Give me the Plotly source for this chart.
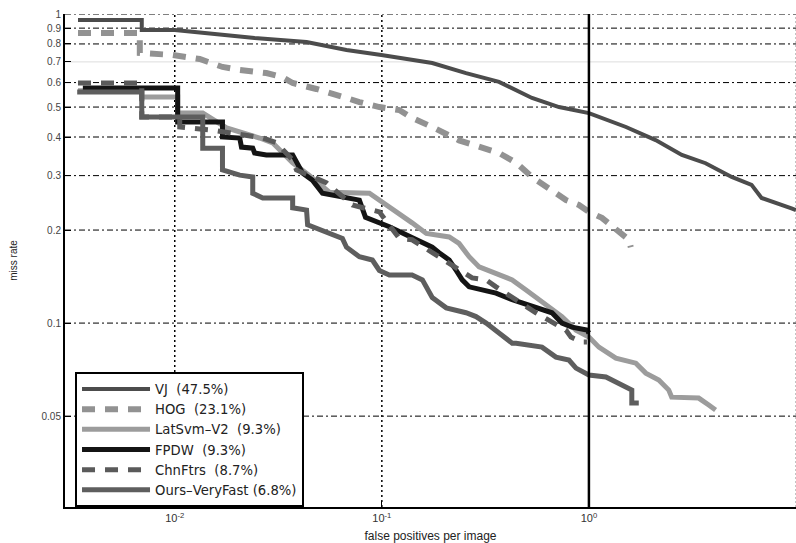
import plotly.graph_objects as go

# ---- data (false positives per image, miss rate) ----
vj_x = [0.00341, 0.00693, 0.00693, 0.0100, 0.01396, 0.0243, 0.0433, 0.0675, 0.0995, 0.1751, 0.255, 0.368,
        0.531, 0.717, 1.0, 1.51, 2.10, 2.81, 3.66, 4.89, 6.10, 6.82, 9.51, 10.0]
vj_y = [0.956, 0.956, 0.888, 0.888, 0.868, 0.836, 0.812, 0.765, 0.737, 0.694, 0.644, 0.603,
        0.535, 0.500, 0.478, 0.431, 0.391, 0.350, 0.329, 0.297, 0.280, 0.254, 0.235, 0.232]

hog_x = [0.00341, 0.00678, 0.00678, 0.00978, 0.0132, 0.0170, 0.0206, 0.0277, 0.0331, 0.0371, 0.0483, 0.0577,
         0.0675, 0.0779, 0.0973, 0.1214, 0.140, 0.1751, 0.236, 0.368, 0.445, 0.531, 0.641, 0.775, 0.895,
         1.0, 1.155, 1.349, 1.559, 1.593]
hog_y = [0.868, 0.868, 0.748, 0.737, 0.715, 0.674, 0.659, 0.644, 0.625, 0.598, 0.572, 0.555,
         0.535, 0.519, 0.500, 0.489, 0.461, 0.431, 0.390, 0.355, 0.330, 0.297, 0.273, 0.250, 0.241,
         0.229, 0.219, 0.200, 0.186, 0.176]

lat_x = [0.00341, 0.00693, 0.00693, 0.01033, 0.01033, 0.01365, 0.0178, 0.0206, 0.0238, 0.0257, 0.0297,
         0.0347, 0.0371, 0.0448, 0.0558, 0.0871, 0.105, 0.1214, 0.140, 0.164, 0.2115, 0.236, 0.264, 0.295,
         0.356, 0.426, 0.497, 0.555, 0.641, 0.741, 0.866, 1.0, 1.117, 1.349, 1.685, 1.882, 2.175, 2.43,
         2.51, 3.39, 3.79, 4.09]
lat_y = [0.565, 0.565, 0.539, 0.539, 0.478, 0.478, 0.428, 0.415, 0.406, 0.397, 0.383,
         0.344, 0.330, 0.300, 0.265, 0.263, 0.241, 0.227, 0.211, 0.195, 0.190, 0.181, 0.164, 0.152,
         0.145, 0.138, 0.128, 0.121, 0.113, 0.105, 0.0949, 0.0901, 0.0836, 0.0770, 0.0742, 0.0689, 0.0654, 0.0607,
         0.0576, 0.0572, 0.0543, 0.0523]

fpdw_x = [0.0036, 0.01033, 0.01033, 0.0170, 0.0170, 0.0206, 0.0210, 0.0238, 0.0243, 0.0277, 0.0371, 0.0387,
          0.0414, 0.0462, 0.0517, 0.0779, 0.0834, 0.1087, 0.1466, 0.1751, 0.189, 0.2115, 0.2286, 0.2444,
          0.264, 0.356, 0.426, 0.555, 0.663, 0.741, 0.828, 0.978, 1.0]
fpdw_y = [0.576, 0.576, 0.447, 0.447, 0.400, 0.397, 0.371, 0.368, 0.355, 0.350, 0.350, 0.332,
          0.306, 0.290, 0.263, 0.250, 0.220, 0.205, 0.186, 0.176, 0.169, 0.160, 0.148, 0.138,
          0.131, 0.125, 0.119, 0.112, 0.108, 0.100, 0.0970, 0.0949, 0.0929]

chn_x = [0.00341, 0.00693, 0.00693, 0.01057, 0.01057, 0.0152, 0.0266, 0.0310, 0.0371, 0.0387, 0.0541,
         0.0721, 0.0973, 0.1214, 0.140, 0.2444, 0.273, 0.319, 0.356, 0.555, 0.775, 0.819, 0.925, 0.978]
chn_y = [0.598, 0.598, 0.464, 0.464, 0.431, 0.421, 0.397, 0.383, 0.337, 0.313, 0.284,
         0.241, 0.229, 0.188, 0.186, 0.148, 0.140, 0.138, 0.131, 0.108, 0.0949, 0.0901, 0.0868, 0.0868]

ours_x = [0.00338, 0.00693, 0.00693, 0.01365, 0.01365, 0.0170, 0.0170, 0.0206, 0.0238, 0.0238, 0.0266,
          0.0371, 0.0371, 0.0433, 0.0438, 0.0462, 0.0558, 0.0645, 0.0675, 0.0779, 0.0900, 0.0973, 0.1087,
          0.140, 0.157, 0.1751, 0.2046, 0.255, 0.285, 0.319, 0.368, 0.426, 0.445, 0.5935, 0.693, 0.801,
          0.866, 1.0, 1.208, 1.291, 1.51, 1.611, 1.611, 1.741]
ours_y = [0.559, 0.559, 0.464, 0.464, 0.368, 0.368, 0.313, 0.301, 0.297, 0.263, 0.254,
          0.254, 0.236, 0.232, 0.208, 0.205, 0.195, 0.188, 0.176, 0.164, 0.160, 0.148, 0.143,
          0.143, 0.138, 0.121, 0.112, 0.108, 0.105, 0.100, 0.0929, 0.0861, 0.0861, 0.0836, 0.0776, 0.0759,
          0.0715, 0.0679, 0.0669, 0.0654, 0.0621, 0.0607, 0.0551, 0.0551]

names = ["VJ\u00a0\u00a0(47.5%)", "HOG\u00a0\u00a0(23.1%)", "LatSvm\u2013V2\u00a0\u00a0(9.3%)",
         "FPDW\u00a0\u00a0(9.3%)", "ChnFtrs\u00a0\u00a0(8.7%)", "Ours\u2013VeryFast (6.8%)"]

y_ticks = [0.05, 0.1, 0.2, 0.3, 0.4, 0.5, 0.6, 0.7, 0.8, 0.9, 1]
y_tick_text = ["0.05", "0.1", "0.2", "0.3", "0.4", "0.5", "0.6", "0.7", "0.8", "0.9", "1"]
x_ticks = [0.01, 0.1, 1, 10]
x_tick_text = ["10<sup>-2</sup>", "10<sup>-1</sup>", "10<sup>0</sup>", "10<sup>1</sup>"]

fig = go.Figure()
series = [
    (vj_x, vj_y, "#4c4c4c", 4, "solid"),
    (hog_x, hog_y, "#929292", 6, "13px,10px"),
    (lat_x, lat_y, "#9c9c9c", 5, "solid"),
    (fpdw_x, fpdw_y, "#141414", 5, "solid"),
    (chn_x, chn_y, "#5a5a5a", 5, "13px,10px"),
    (ours_x, ours_y, "#5e5e5e", 5, "solid"),
]
for (xs, ys, col, w, dash), nm in zip(series, names):
    fig.add_trace(go.Scatter(x=xs, y=ys, mode="lines", name=nm,
                             line=dict(color=col, width=w, dash=dash)))

grid_dash = "6px,3px,2px,3px"
shapes = []
for yv in y_ticks:
    light = (yv == 0.7)
    shapes.append(dict(type="line", xref="paper", yref="y", x0=0, x1=1, y0=yv, y1=yv,
                       line=dict(color="#dddddd" if light else "black", width=1,
                                 dash="solid" if light else grid_dash), layer="below"))
for xv in [0.01, 0.1]:
    shapes.append(dict(type="line", xref="x", yref="paper", x0=xv, x1=xv, y0=0, y1=1,
                       line=dict(color="black", width=1.5, dash="2px,3px"), layer="below"))
shapes.append(dict(type="line", xref="x", yref="paper", x0=1, x1=1, y0=0, y1=1,
                   line=dict(color="black", width=2.5), layer="above"))
shapes.append(dict(type="line", xref="paper", yref="paper", x0=1, x1=1, y0=0, y1=1,
                   line=dict(color="#888888", width=1, dash="2px,2px"), layer="below"))

fig.update_layout(
    width=796, height=543,
    margin=dict(l=65, r=0, t=14, b=36, autoexpand=False),
    paper_bgcolor="white", plot_bgcolor="white",
    font=dict(family="Liberation Sans, Arial, sans-serif", color="#222222"),
    shapes=shapes,
    showlegend=True,
    legend=dict(x=0.0137, y=0.274, xanchor="left", yanchor="top",
                bgcolor="white", bordercolor="black", borderwidth=2,
                font=dict(size=13.2, family="DejaVu Sans, sans-serif", color="#222222"), itemwidth=68,
                tracegroupgap=0, traceorder="normal"),
    xaxis=dict(type="log", range=[-2.53, 1.0], tickvals=x_ticks, ticktext=x_tick_text,
               automargin=False,
               showgrid=False, zeroline=False, showline=True, linecolor="black", linewidth=2,
               ticks="inside", ticklen=6, tickcolor="black", tickfont=dict(size=11, color="#333333"),
               title=dict(text="false positives per image", font=dict(size=12, color="#222222"), standoff=8)),
    yaxis=dict(type="log", range=[-1.595, 0], tickvals=y_ticks, ticktext=y_tick_text,
               automargin=False,
               showgrid=False, zeroline=False, showline=True, linecolor="black", linewidth=2,
               ticks="inside", ticklen=6, tickcolor="black", tickfont=dict(size=10, color="#444444"),
               title=dict(text="miss rate", font=dict(size=10, color="#222222"), standoff=22)),
)

fig.write_html("out.html", config={"displayModeBar": False, "staticPlot": True},
               post_script="document.body.style.margin='0';document.body.style.overflow='hidden';")
